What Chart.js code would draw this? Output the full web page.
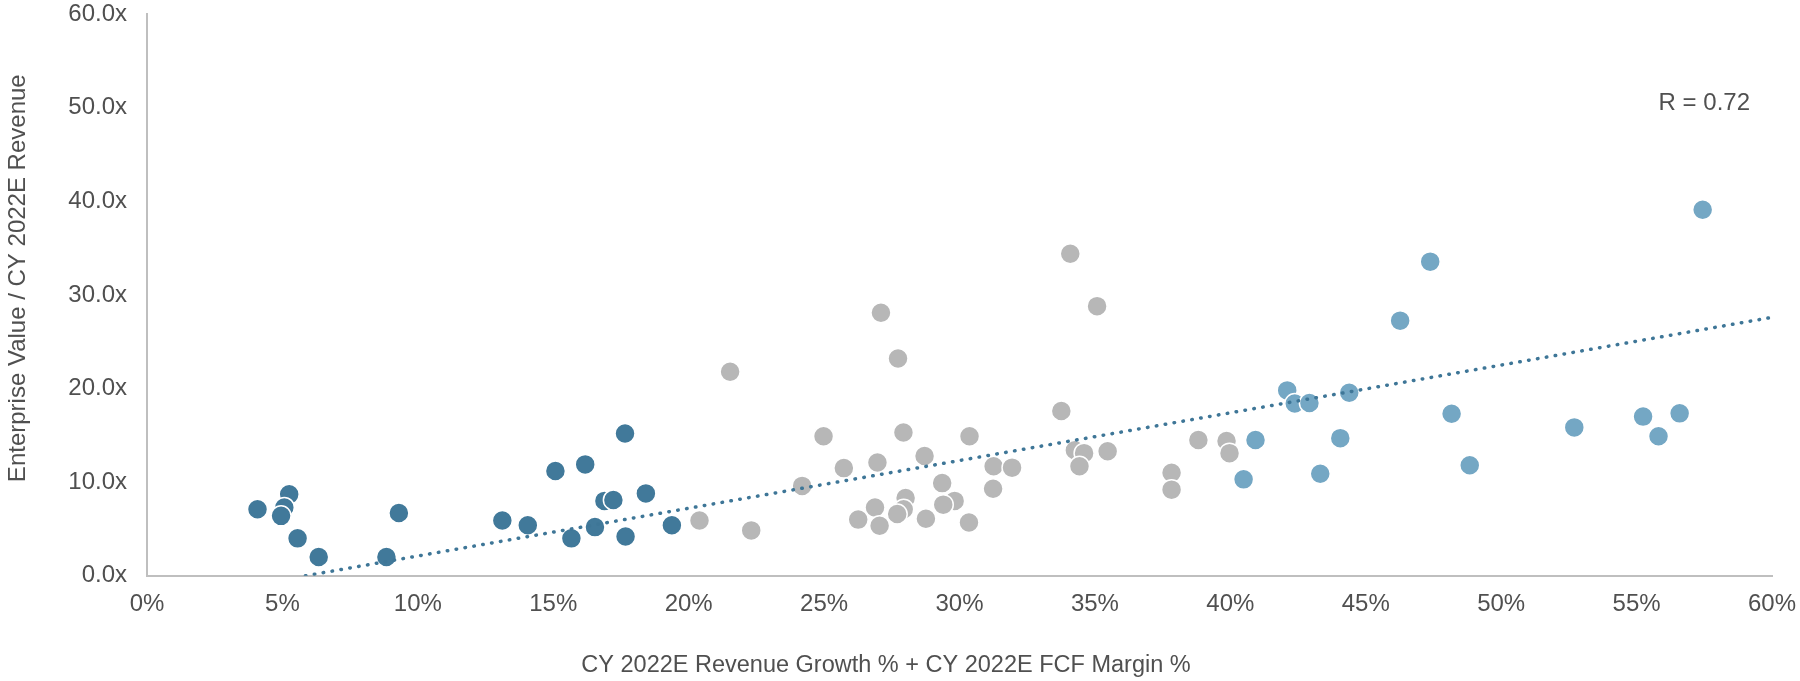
<!DOCTYPE html>
<html>
<head>
<meta charset="utf-8">
<script src="https://cdn.jsdelivr.net/npm/chart.js@4/dist/chart.umd.min.js"></script>
<style>
  html, body { margin: 0; padding: 0; background: #fff; }
  #wrap { width: 1800px; height: 681px; }
</style>
</head>
<body>
<div id="wrap"><canvas id="scatter"></canvas></div>
<script>
// companies below 20% growth + margin (dark blue)
const lowX = [4.08, 5.25, 5.07, 4.95, 5.56, 6.34, 8.84, 9.30, 13.12, 14.06,
              15.08, 16.18, 15.67, 16.54, 16.89, 17.22, 17.65, 17.67, 18.42, 19.38];
const lowY = [7.1, 8.7, 7.3, 6.4, 4.0, 2.0, 2.0, 6.7, 5.9, 5.4,
              11.2, 11.9, 4.0, 5.2, 8.0, 8.1, 15.2, 4.2, 8.8, 5.4];

// companies between 20% and 40% (gray)
const midX = [34.09, 35.08, 27.10, 27.73, 21.53, 33.76, 24.98, 27.93, 30.37, 28.71,
              25.73, 26.97, 31.26, 31.94, 34.26, 34.60, 34.43, 35.47, 24.19, 29.36,
              31.24, 28.01, 29.82, 29.40, 26.88, 27.94, 27.70, 26.26, 27.05, 28.76,
              30.35, 20.40, 22.31, 38.82, 39.86, 39.97, 37.83, 37.83];
const midY = [34.4, 28.8, 28.1, 23.2, 21.8, 17.6, 14.9, 15.3, 14.9, 12.8,
              11.5, 12.1, 11.7, 11.55, 13.4, 13.1, 11.7, 13.3, 9.6, 9.9,
              9.3, 8.3, 8.0, 7.6, 7.3, 7.1, 6.6, 6.0, 5.35, 6.1,
              5.7, 5.9, 4.85, 14.5, 14.4, 13.1, 11.0, 9.2];

// companies above 40% (light blue)
const highX = [40.93, 40.49, 42.10, 42.38, 42.92, 44.39, 44.06, 43.32, 46.27, 47.38,
               48.17, 48.84, 52.70, 55.24, 55.81, 56.59, 57.44];
const highY = [14.5, 10.3, 19.8, 18.4, 18.45, 19.55, 14.7, 10.9, 27.25, 33.55,
               17.3, 11.8, 15.85, 17.0, 14.9, 17.35, 39.1];

// linear trend line end points
const trendX = [5.85, 60];
const trendY = [0, 27.6];

const rLabel = 'R = 0.72';
const rAt = [57.5, 50.5];

const xTitle = 'CY 2022E Revenue Growth % + CY 2022E FCF Margin %';
// leading spaces nudge the rotated title a bit above the axis middle, like the original
const yTitle = '     Enterprise Value / CY 2022E Revenue';

const textColor = '#505050';
const fontFamily = '"Liberation Sans", Arial, sans-serif';

function toPoints(xs, ys) {
    return xs.map((x, i) => ({ x: x, y: ys[i] }));
}

function dots(data, color) {
    return {
        type: 'scatter',
        data: data,
        backgroundColor: color,
        borderColor: '#ffffff',
        borderWidth: 1.5,
        pointRadius: 10,
        pointHoverRadius: 10,
        order: 1
    };
}

// writes the R value inside the plot
const rText = {
    id: 'rText',
    afterDatasetsDraw(chart) {
        const ctx = chart.ctx;
        ctx.save();
        ctx.font = '24px ' + fontFamily;
        ctx.fillStyle = textColor;
        ctx.textAlign = 'center';
        ctx.textBaseline = 'middle';
        ctx.fillText(rLabel, chart.scales.x.getPixelForValue(rAt[0]), chart.scales.y.getPixelForValue(rAt[1]));
        ctx.restore();
    }
};

new Chart(document.querySelector('#scatter').getContext('2d'), {
    data: {
        datasets: [
            {
                type: 'line',
                data: toPoints(trendX, trendY),
                borderColor: '#3E7697',
                borderWidth: 3.5,
                borderDash: [0.5, 8.5],
                borderCapStyle: 'round',
                pointRadius: 0,
                fill: false,
                order: 0
            },
            dots(toPoints(lowX, lowY), '#41799A'),
            dots(toPoints(midX, midY), '#B7B7B7'),
            dots(toPoints(highX, highY), '#74A7C4')
        ]
    },
    options: {
        responsive: true,
        maintainAspectRatio: false,
        animation: false,
        layout: { autoPadding: false, padding: { top: 14, right: 28, left: 0, bottom: 0 } },
        plugins: {
            legend: { display: false },
            tooltip: { enabled: false },
            title: {
                display: true,
                position: 'bottom',
                text: xTitle,
                color: textColor,
                font: { family: fontFamily, size: 23.5, weight: 'normal' },
                padding: { top: 0, bottom: 1 }
            }
        },
        scales: {
            x: {
                type: 'linear',
                min: 0,
                max: 60,
                grid: { display: false, drawTicks: false },
                border: { display: true, color: '#BFBFBF', width: 2 },
                ticks: {
                    stepSize: 5,
                    padding: 14,
                    color: textColor,
                    font: { family: fontFamily, size: 24 },
                    callback: v => v + '%'
                },
                afterFit: scale => {
                    scale.height = 76;
                    scale.paddingLeft = 0;
                    scale.paddingRight = 0;
                }
            },
            y: {
                type: 'linear',
                min: 0,
                max: 60,
                grid: { display: false, drawTicks: false },
                border: { display: true, color: '#BFBFBF', width: 2 },
                ticks: {
                    stepSize: 10,
                    padding: 20,
                    color: textColor,
                    font: { family: fontFamily, size: 24 },
                    callback: v => v.toFixed(1) + 'x'
                },
                title: {
                    display: true,
                    text: yTitle,
                    color: textColor,
                    font: { family: fontFamily, size: 24 },
                    padding: { top: 4, bottom: 0 }
                },
                afterFit: scale => {
                    scale.width = 147;
                    scale.paddingTop = 0;
                    scale.paddingBottom = 0;
                }
            }
        }
    },
    plugins: [rText]
});
</script>
</body>
</html>
